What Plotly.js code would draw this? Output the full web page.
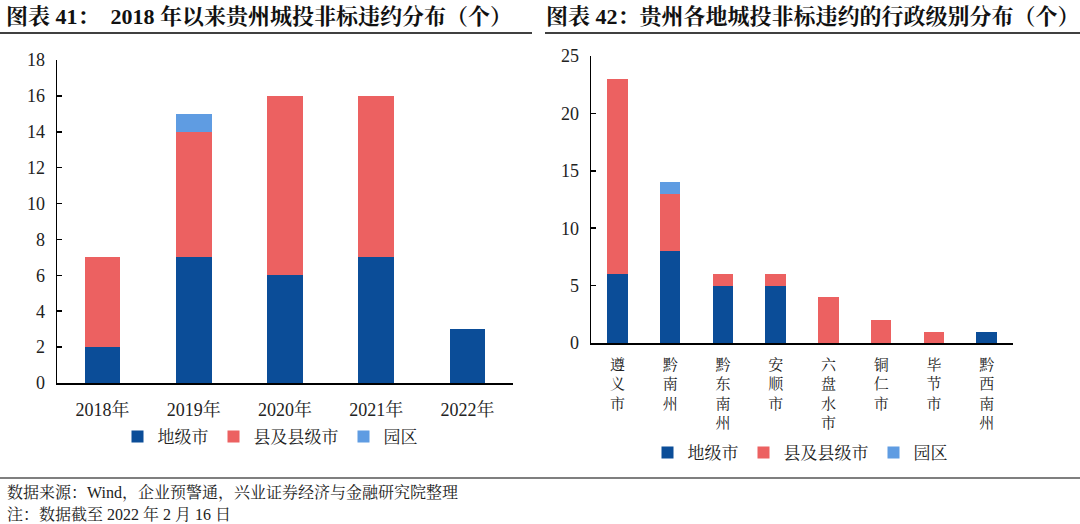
<!DOCTYPE html>
<html><head><meta charset="utf-8">
<script src="https://cdn.plot.ly/plotly-3.0.1.min.js"></script>
<style>html,body{margin:0;padding:0;background:#fff}#c{width:1080px;height:524px}</style>
</head><body><div id="c"></div>
<script>
const years = ['2018年','2019年','2020年','2021年','2022年'];
const yearCity = [2,7,6,7,3];
const yearCounty = [5,7,10,9,0];
const yearPark = [0,1,0,0,0];

const regions = ['遵义市','黔南州','黔东南州','安顺市','六盘水市','铜仁市','毕节市','黔西南州'];
const regCity = [6,8,5,5,0,0,0,1];
const regCounty = [17,5,1,1,4,2,1,0];
const regPark = [0,1,0,0,0,0,0,0];

const seriesNames = ['地级市','县及县级市','园区'];
const colors = ['#0b4d98','#ec6161','#5f9ce2'];
const regionLabels = regions.map(r => r.split('').join('<br>'));

const F = '"Liberation Serif","Times New Roman","Noto Serif CJK SC","Noto Sans CJK SC",serif';
const traces = [];
[yearCity, yearCounty, yearPark].forEach((v,i)=>{
  traces.push({type:'bar', x:years, y:v, name:seriesNames[i], marker:{color:colors[i]},
    xaxis:'x', yaxis:'y', legend:'legend', hoverinfo:'none'});
});
[regCity, regCounty, regPark].forEach((v,i)=>{
  traces.push({type:'bar', x:regions, y:v, name:seriesNames[i], marker:{color:colors[i]},
    xaxis:'x2', yaxis:'y2', legend:'legend2', hoverinfo:'none'});
});

const W=1080,H=524;
const px = x=>x/W, py = y=>1-y/H;
const axisCommon = {showgrid:false, zeroline:false, showline:true, linecolor:'#000', linewidth:1.5,
  tickfont:{family:F,size:18,color:'#222'}, fixedrange:true};
const legFont = {family:F,size:17,color:'#222'};
const layout = {
  width:W, height:H, margin:{l:0,r:0,t:0,b:0}, paper_bgcolor:'#fff', plot_bgcolor:'#fff',
  barmode:'stack', bargap:0.61, showlegend:true, font:{family:F},
  xaxis:Object.assign({}, axisCommon, {domain:[px(57),px(513)], anchor:'y', ticks:'', ticklabelstandoff:10}),
  yaxis:Object.assign({}, axisCommon, {domain:[py(383),py(60)], anchor:'x', range:[0,18], dtick:2,
    ticks:'inside', ticklen:5, tickwidth:1.5, tickcolor:'#000', ticklabelstandoff:7}),
  xaxis2:Object.assign({}, axisCommon, {domain:[px(591),px(1013)], anchor:'y2', ticks:'',
    tickmode:'array', tickvals:regions, ticktext:regionLabels, tickfont:{family:F,size:15,color:'#222'}, ticklabelstandoff:7}),
  yaxis2:Object.assign({}, axisCommon, {domain:[py(343),py(56)], anchor:'x2', range:[0,25], dtick:5,
    ticks:'inside', ticklen:5, tickwidth:1.5, tickcolor:'#000', ticklabelstandoff:7}),
  legend:{orientation:'h', x:px(270), xanchor:'center', y:py(437), yanchor:'middle',
    font:legFont, itemwidth:30, traceorder:'normal', bgcolor:'rgba(0,0,0,0)'},
  legend2:{orientation:'h', x:px(800), xanchor:'center', y:py(453), yanchor:'middle',
    font:legFont, itemwidth:30, traceorder:'normal', bgcolor:'rgba(0,0,0,0)'},
  shapes:[
    {type:'line', xref:'paper', yref:'paper', x0:0, x1:px(532), y0:py(33), y1:py(33), line:{color:'#000',width:1.5}},
    {type:'line', xref:'paper', yref:'paper', x0:px(545), x1:1, y0:py(33), y1:py(33), line:{color:'#000',width:1.5}},
    {type:'line', xref:'paper', yref:'paper', x0:0, x1:1, y0:py(478), y1:py(478), line:{color:'#000',width:1.2}}
  ],
  annotations:[
    {xref:'paper', yref:'paper', x:px(4), y:py(16), xanchor:'left', yanchor:'middle', showarrow:false,
     text:'<b>图表 41：  2018 年以来贵州城投非标违约分布（个）</b>', font:{family:F,size:22,color:'#111'}},
    {xref:'paper', yref:'paper', x:px(544), y:py(16), xanchor:'left', yanchor:'middle', showarrow:false,
     text:'<b>图表 42：贵州各地城投非标违约的行政级别分布（个）</b>', font:{family:F,size:22,color:'#111'}},
    {xref:'paper', yref:'paper', x:px(5), y:py(492), xanchor:'left', yanchor:'middle', showarrow:false,
     text:'数据来源：Wind，企业预警通，兴业证券经济与金融研究院整理', font:{family:F,size:16,color:'#222'}},
    {xref:'paper', yref:'paper', x:px(5), y:py(514), xanchor:'left', yanchor:'middle', showarrow:false,
     text:'注：数据截至 2022 年 2 月 16 日', font:{family:F,size:16,color:'#222'}}
  ]
};
Plotly.newPlot('c', traces, layout, {displayModeBar:false, staticPlot:true});
</script></body></html>
